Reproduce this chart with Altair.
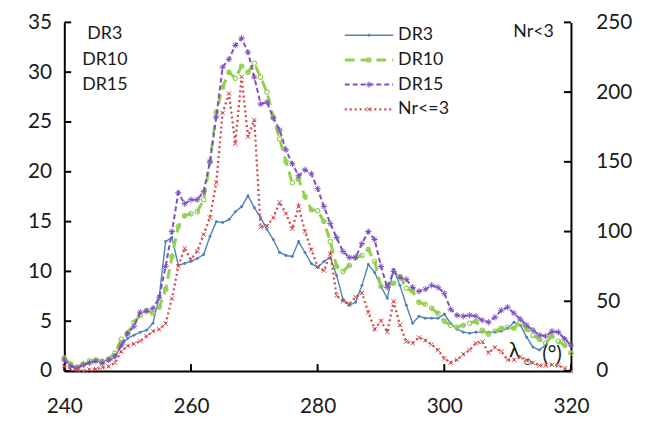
import altair as alt
import pandas as pd

# ---------------- data ----------------
lam = list(range(240, 321))

dr3 = [1.3, 0.6, 0.3, 0.7, 0.9, 1.1, 1.1, 1.0, 1.4, 2.5,
       3.3, 3.6, 3.9, 4.1, 4.8, 7.5, 13.0, 13.4, 10.6, 10.8,
       11.0, 11.3, 11.7, 13.5, 15.0, 14.9, 15.2, 16.0, 16.5, 17.6,
       16.4, 15.4, 14.2, 13.2, 11.9, 11.6, 11.5, 13.0, 11.9, 10.8,
       10.4, 11.0, 11.4, 9.6, 7.2, 6.6, 6.9, 8.6, 10.7, 9.9,
       8.5, 7.3, 10.2, 8.6, 6.6, 4.8, 5.5, 5.3, 5.3, 5.3,
       5.7, 4.8, 4.2, 3.9, 3.8, 3.9, 3.9, 3.9, 3.9, 4.0,
       4.3, 4.9, 4.6, 3.4, 2.4, 2.1, 2.6, 3.9, 3.9, 3.3,
       2.6]

dr10 = [1.3, 0.7, 0.4, 0.7, 1.0, 1.1, 0.9, 1.2, 1.8, 3.2,
        3.8, 4.9, 5.6, 6.1, 5.8, 6.4, 8.2, 11.5, 14.5, 15.6,
        15.8, 16.0, 17.2, 21.0, 26.0, 28.5, 30.0, 29.4, 30.6, 30.0,
        30.9, 29.5, 28.0, 25.5, 23.3, 21.0, 18.9, 19.3, 17.5, 16.2,
        16.1, 15.0, 13.0, 10.5, 10.0, 10.6, 11.4, 11.6, 12.2, 11.0,
        8.5, 8.6, 8.8, 9.5, 8.3, 8.0, 6.9, 6.7, 6.3, 5.8,
        5.0, 4.6, 4.4, 4.6, 4.8, 5.0, 4.1, 3.7, 4.0, 4.3,
        4.4, 4.3, 4.9, 4.2, 3.6, 3.2, 2.8, 3.5, 3.0, 2.6,
        1.8]

dr15 = [1.1, 0.5, 0.3, 0.6, 0.8, 1.0, 0.8, 1.1, 1.5, 2.6,
        3.8, 4.5, 5.9, 6.0, 6.3, 7.4, 10.5, 14.0, 17.9, 16.8,
        17.2, 17.2, 18.0, 21.0, 25.5, 30.5, 31.3, 32.7, 33.4, 32.0,
        29.5, 26.8, 27.0, 25.4, 24.2, 22.2, 20.8, 19.6, 20.2, 19.8,
        18.3, 16.5, 14.8, 13.4, 12.0, 11.4, 11.4, 12.8, 14.0, 13.2,
        10.5, 8.4, 10.0, 9.4, 9.2, 8.4, 8.0, 8.2, 8.6, 8.4,
        7.8, 6.2, 5.6, 5.5, 5.6, 5.5, 5.1, 4.9, 5.4, 6.1,
        6.4, 5.8, 5.2, 4.6, 4.1, 3.6, 3.5, 4.0, 3.9, 3.2,
        2.6]

nr3 = [3.5, 1.5, 0.5, 0.0, 1.0, 1.5, 2.5, 3.3, 6.0, 14.0,
       18.0, 19.5, 21.5, 25.0, 28.5, 30.0, 34.0, 52.0, 75.0, 88.0,
       80.0, 86.0, 98.0, 110.0, 135.0, 185.0, 199.0, 163.0, 211.0, 168.0,
       180.0, 103.0, 104.0, 110.0, 121.0, 113.0, 102.0, 118.0, 100.0, 87.0,
       75.0, 72.0, 84.0, 54.0, 50.0, 48.0, 53.0, 56.0, 42.0, 30.0,
       36.0, 28.0, 50.0, 33.0, 21.0, 20.0, 24.0, 22.0, 19.0, 15.0,
       9.0, 6.0, 8.0, 12.0, 15.0, 20.0, 21.0, 13.0, 17.0, 14.0,
       8.0, 8.0, 10.0, 8.0, 6.0, 4.0, 4.0, 4.5, 4.0, 2.0,
       0.0]

series_names = ["DR3", "DR10", "DR15", "Nr<=3"]
left_ticks = [0, 5, 10, 15, 20, 25, 30, 35]
right_ticks = [0, 50, 100, 150, 200, 250]
x_ticks = [240, 260, 280, 300, 320]
left_notes = ["DR3", "DR10", "DR15"]
right_note = "Nr<3"

# ---------------- styling ----------------
W, H = 513, 353
FONT = "Lato"
TXT = "#1a1a1a"
colors = {"DR3": "#4F81BD", "DR10": "#92D050", "DR15": "#7F50C0", "Nr<=3": "#D04A4A"}
ASTER = "M-1,0L1,0M0,-1L0,1M-0.7,-0.7L0.7,0.7M-0.7,0.7L0.7,-0.7"
XMARK = "M-1,-1L1,1M-1,1L1,-1"
style = {
    "DR3": dict(line=dict(strokeWidth=1.4), pt=dict(shape="circle", size=9, filled=True)),
    "DR10": dict(line=dict(strokeWidth=3, strokeDash=[10, 6]),
                 pt=dict(shape="circle", size=20, filled=False, strokeWidth=1.1)),
    "DR15": dict(line=dict(strokeWidth=2, strokeDash=[5, 3]),
                 pt=dict(shape=ASTER, size=40, filled=False, strokeWidth=1.0)),
    "Nr<=3": dict(line=dict(strokeWidth=2.3, strokeDash=[2, 3]),
                  pt=dict(shape=XMARK, size=20, filled=False, strokeWidth=1.0)),
}

axis_common = dict(ticks=False, grid=False, domainColor="black", domainWidth=2,
                   labelFont=FONT, labelFontSize=21, labelColor=TXT, title=None,
                   labelFlush=False, labelOverlap=False)

x_enc = alt.X("lam:Q", scale=alt.Scale(domain=[240, 320], nice=False, zero=False),
              axis=alt.Axis(values=x_ticks, labelPadding=25, **axis_common))
y_left = alt.Y("v:Q", scale=alt.Scale(domain=[0, 35], nice=False),
               axis=alt.Axis(orient="left", values=left_ticks, labelPadding=13, **axis_common))
y_right = alt.Y("v:Q", scale=alt.Scale(domain=[0, 250], nice=False),
                axis=alt.Axis(orient="right", values=right_ticks, labelPadding=25, **axis_common))

series_vals = {"DR3": dr3, "DR10": dr10, "DR15": dr15, "Nr<=3": nr3}


def series_layers(name, y_enc):
    df = pd.DataFrame({"lam": lam, "v": series_vals[name]})
    st = style[name]
    line = alt.Chart(df).mark_line(color=colors[name], **st["line"]).encode(x=x_enc, y=y_enc)
    pts = alt.Chart(df).mark_point(color=colors[name], opacity=1, **st["pt"]).encode(x=x_enc, y=y_enc)
    return [line, pts]


left_layers = []
for nm in ["DR3", "DR10", "DR15"]:
    left_layers += series_layers(nm, y_left)

# inward ticks
xt = alt.Chart(pd.DataFrame({"lam": x_ticks})).mark_rule(color="black", strokeWidth=2).encode(
    x=x_enc, y=alt.value(H), y2=alt.value(H - 7))
lt = alt.Chart(pd.DataFrame({"v": left_ticks})).mark_rule(color="black", strokeWidth=2).encode(
    y=y_left, x=alt.value(0), x2=alt.value(7))
left_layers += [xt, lt]

# annotations (data coordinates)
notes_df = pd.DataFrame({"lam": [246.4, 246.4, 246.4], "v": [33.8, 31.2, 28.7], "t": left_notes})
notes = alt.Chart(notes_df).mark_text(font=FONT, fontSize=18, color=TXT, align="center",
                                      baseline="middle").encode(x=x_enc, y=y_left, text="t:N")
rn = alt.Chart(pd.DataFrame({"lam": [317.3], "v": [34.0], "t": [right_note]})).mark_text(
    font=FONT, fontSize=18, color=TXT, align="right", baseline="middle").encode(x=x_enc, y=y_left, text="t:N")
lam_lbl = alt.Chart(pd.DataFrame({"lam": [311.1], "v": [2.0], "t": ["λ"]})).mark_text(
    font=FONT, fontSize=21, color=TXT, align="center", baseline="middle").encode(x=x_enc, y=y_left, text="t:N")
sun_lbl = alt.Chart(pd.DataFrame({"lam": [313.1], "v": [0.9], "t": ["⊙"]})).mark_text(
    font="DejaVu Sans", fontSize=10, color=TXT, align="center", baseline="middle").encode(x=x_enc, y=y_left, text="t:N")
deg_lbl = alt.Chart(pd.DataFrame({"lam": [317.0], "v": [1.6], "t": ["(°)"]})).mark_text(
    font=FONT, fontSize=21, color=TXT, align="center", baseline="middle").encode(x=x_enc, y=y_left, text="t:N")
left_layers += [notes, rn, lam_lbl, sun_lbl, deg_lbl]

# legend (drawn inside plot, top centre)
LX0, LX1, LTX = 284, 333, 338
for i, nm in enumerate(series_names):
    yy = 13 + 25 * i
    d = pd.DataFrame({"t": [nm]})
    st = style[nm]
    left_layers.append(alt.Chart(d).mark_rule(color=colors[nm], **st["line"]).encode(
        x=alt.value(LX0), x2=alt.value(LX1), y=alt.value(yy)))
    left_layers.append(alt.Chart(d).mark_point(color=colors[nm], opacity=1, **st["pt"]).encode(
        x=alt.value((LX0 + LX1) / 2), y=alt.value(yy)))
    left_layers.append(alt.Chart(d).mark_text(font=FONT, fontSize=18, color=TXT, align="left",
                                              baseline="middle").encode(
        x=alt.value(LTX), y=alt.value(yy), text="t:N"))

layerA = alt.layer(*left_layers)

right_layers = series_layers("Nr<=3", y_right)
rt = alt.Chart(pd.DataFrame({"v": right_ticks})).mark_rule(color="black", strokeWidth=2).encode(
    y=y_right, x=alt.value(W - 7), x2=alt.value(W))
right_layers.append(rt)
layerB = alt.layer(*right_layers)

chart = alt.layer(layerA, layerB).resolve_scale(y="independent").properties(
    width=W, height=H,
    autosize=alt.AutoSizeParams(type="none"),
    padding={"left": 57, "top": 12, "right": 78, "bottom": 45},
    background="white",
).configure_view(stroke=None)

chart.save("out.html", embed_options={"renderer": "svg", "actions": False})
